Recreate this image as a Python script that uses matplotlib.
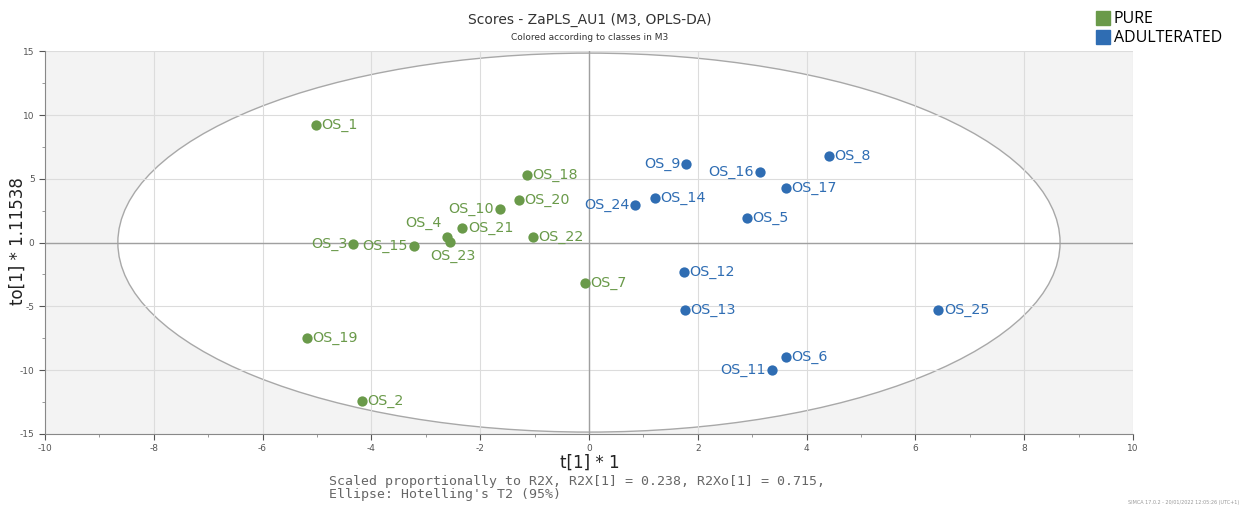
import matplotlib
matplotlib.use("Agg")
import matplotlib.pyplot as plt
from matplotlib.patches import Ellipse, Patch
from matplotlib.ticker import MultipleLocator

plt.rcParams["axes.unicode_minus"] = False

# scores
pure_names = ["OS_1", "OS_18", "OS_20", "OS_10", "OS_21", "OS_4", "OS_23",
              "OS_3", "OS_15", "OS_22", "OS_7", "OS_19", "OS_2"]
pure_t = [-5.02, -1.14, -1.29, -1.64, -2.33, -2.61, -2.56, -4.34, -3.22, -1.03, -0.07, -5.18, -4.17]
pure_to = [9.24, 5.32, 3.37, 2.66, 1.17, 0.47, 0.08, -0.08, -0.23, 0.47, -3.13, -7.44, -12.45]

adult_names = ["OS_9", "OS_16", "OS_8", "OS_17", "OS_24", "OS_14", "OS_5",
               "OS_12", "OS_13", "OS_25", "OS_6", "OS_11"]
adult_t = [1.78, 3.14, 4.41, 3.62, 0.85, 1.21, 2.90, 1.75, 1.76, 6.42, 3.62, 3.36]
adult_to = [6.19, 5.56, 6.81, 4.31, 2.98, 3.52, 1.96, -2.27, -5.32, -5.25, -8.93, -10.02]

# Hotelling T2 ellipse semi axes
ell_a = 8.66
ell_b = 14.85

green = "#6a9a4a"
blue = "#2f6db3"

# label placement: 'r' right, 'l' left, 'ul' upper left, 'b' below
place = {"OS_9": "l", "OS_16": "l", "OS_24": "l", "OS_3": "l", "OS_15": "l",
         "OS_10": "l", "OS_11": "l", "OS_4": "ul", "OS_23": "b"}

fig = plt.figure(figsize=(12.42, 5.07), dpi=100)
ax = fig.add_axes([0.0362, 0.144, 0.876, 0.755])
ax.set_facecolor("#f3f3f3")
ax.set_xlim(-10, 10)
ax.set_ylim(-15, 15)

ax.add_patch(Ellipse((0, 0), 2 * ell_a, 2 * ell_b, facecolor="white",
                     edgecolor="#a8a8a8", lw=1.0, zorder=0.2))
ax.set_axisbelow(True)
ax.grid(True, color="#dcdcdc", lw=0.8)
ax.axhline(0, color="#a0a0a0", lw=1.0, zorder=0.6)
ax.axvline(0, color="#a0a0a0", lw=1.0, zorder=0.6)

ax.xaxis.set_major_locator(MultipleLocator(2))
ax.xaxis.set_minor_locator(MultipleLocator(1))
ax.yaxis.set_major_locator(MultipleLocator(5))
ax.yaxis.set_minor_locator(MultipleLocator(2.5))
ax.tick_params(labelsize=6.5, colors="#555555", length=4, width=0.8)
ax.tick_params(which="minor", length=2.5, colors="#888888")
for s in ["top", "right"]:
    ax.spines[s].set_visible(False)
for s in ["left", "bottom"]:
    ax.spines[s].set_color("#888888")


def draw(ts, tos, names, col):
    ax.scatter(ts, tos, s=55, color=col, zorder=3, linewidths=0)
    for x, y, n in zip(ts, tos, names):
        p = place.get(n, "r")
        if p == "r":
            ax.annotate(n, (x, y), xytext=(4, 0), textcoords="offset points",
                        ha="left", va="center", color=col, fontsize=10.3)
        elif p == "l":
            ax.annotate(n, (x, y), xytext=(-4, 0), textcoords="offset points",
                        ha="right", va="center", color=col, fontsize=10.3)
        elif p == "ul":
            ax.annotate(n, (x, y), xytext=(-4, 5), textcoords="offset points",
                        ha="right", va="bottom", color=col, fontsize=10.3)
        else:
            ax.annotate(n, (x, y), xytext=(2, -5), textcoords="offset points",
                        ha="center", va="top", color=col, fontsize=10.3)


draw(pure_t, pure_to, pure_names, green)
draw(adult_t, adult_to, adult_names, blue)

fig.text(0.475, 0.96, "Scores - ZaPLS_AU1 (M3, OPLS-DA)", ha="center", va="center",
         fontsize=10, color="#333333")
fig.text(0.475, 0.927, "Colored according to classes in M3", ha="center", va="center",
         fontsize=6.5, color="#333333")

fig.text(0.475, 0.087, "t[1] * 1", fontsize=12, color="#222222", ha="center", va="center")
fig.text(0.0145, 0.525, "to[1] * 1.11538", fontsize=12, color="#222222",
         ha="center", va="center", rotation=90)

fig.text(0.265, 0.037, "Scaled proportionally to R2X, R2X[1] = 0.238, R2Xo[1] = 0.715,\n"
         "Ellipse: Hotelling's T2 (95%)", family="monospace", fontsize=9.5,
         color="#666666", va="center", ha="left", linespacing=0.95)
fig.text(0.998, 0.004, "SIMCA 17.0.2 - 20/01/2022 12:05:26 (UTC+1)", fontsize=3.5,
         color="#999999", ha="right", va="bottom")

handles = [Patch(facecolor=green, edgecolor=green, label="PURE"),
           Patch(facecolor=blue, edgecolor=blue, label="ADULTERATED")]
fig.legend(handles=handles, loc="upper left", bbox_to_anchor=(0.876, 0.995),
           frameon=False, fontsize=11.5, handlelength=0.9, handleheight=1.0,
           handletextpad=0.2, labelspacing=0.15, borderaxespad=0.1,
           prop={"family": "Open Sans", "size": 11.5})

fig.savefig("out.png", dpi=100)
